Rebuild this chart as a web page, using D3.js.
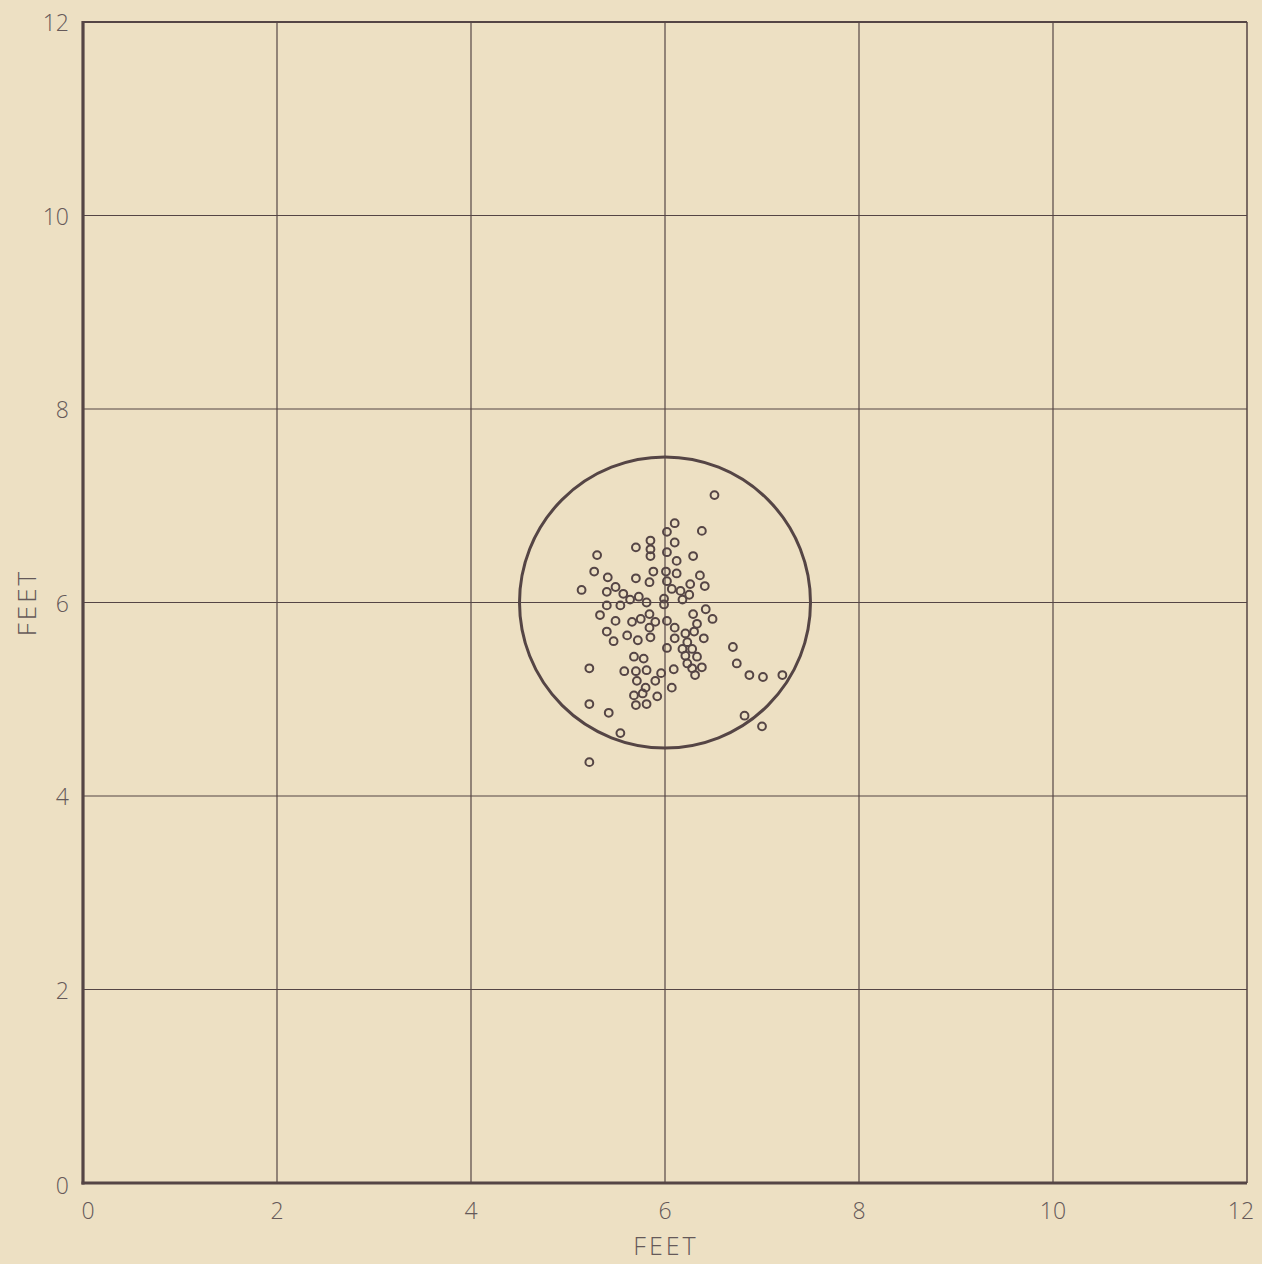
<!DOCTYPE html>
<html>
<head>
<meta charset="utf-8">
<script src="https://cdn.jsdelivr.net/npm/d3@7"></script>
<style>
  html, body { margin: 0; padding: 0; background: #ede0c3; }
  svg { display: block; }
</style>
</head>
<body>
<div id="vis"></div>
<script>
// ---- Data (feet) ----
const xTicks = [0, 2, 4, 6, 8, 10, 12];
const yTicks = [0, 2, 4, 6, 8, 10, 12];
const tickLabels = ["0", "2", "4", "6", "8", "10", "12"];

// impact circle: center + radius in feet
const circleCenter = [6, 6];
const circleRadius = 1.5;

// hit points
const hitX = [
  6.51, 6.10, 6.38, 6.02, 5.70, 5.85, 5.85, 5.85, 5.30, 6.10,
  6.02, 6.29, 6.12, 5.27, 5.41, 5.70, 5.88, 6.01, 6.12, 6.36,
  5.84, 6.02, 5.14, 5.40, 5.49, 5.57, 5.64, 5.73, 5.81, 5.40,
  5.54, 5.99, 6.07, 6.16, 6.26, 6.41, 6.25, 6.18, 6.42, 6.29,
  6.49, 5.33, 5.49, 5.66, 5.75, 5.84, 5.90, 6.02, 6.10, 6.10,
  6.21, 6.30, 6.33, 6.40, 6.23, 5.40, 5.61, 5.47, 5.72, 5.84,
  5.85, 6.02, 6.18, 6.28, 6.33, 6.21, 6.23, 6.28, 6.31, 6.38,
  6.09, 5.96, 6.07, 5.68, 5.78, 5.22, 5.58, 5.70, 5.81, 5.71,
  5.90, 5.80, 5.68, 5.92, 5.70, 5.81, 5.22, 5.42, 5.54, 5.22,
  6.70, 6.74, 6.87, 7.01, 7.21, 6.82, 7.00, 5.77, 5.99
];
const hitY = [
  7.11, 6.82, 6.74, 6.73, 6.57, 6.64, 6.55, 6.48, 6.49, 6.62,
  6.52, 6.48, 6.43, 6.32, 6.26, 6.25, 6.32, 6.32, 6.30, 6.28,
  6.21, 6.22, 6.13, 6.11, 6.16, 6.09, 6.03, 6.06, 6.00, 5.97,
  5.97, 6.04, 6.14, 6.12, 6.19, 6.17, 6.08, 6.03, 5.93, 5.88,
  5.83, 5.87, 5.81, 5.80, 5.83, 5.88, 5.80, 5.81, 5.74, 5.63,
  5.68, 5.70, 5.78, 5.63, 5.59, 5.70, 5.66, 5.60, 5.61, 5.74,
  5.64, 5.53, 5.52, 5.52, 5.44, 5.45, 5.37, 5.32, 5.25, 5.33,
  5.31, 5.27, 5.12, 5.44, 5.42, 5.32, 5.29, 5.29, 5.30, 5.19,
  5.19, 5.12, 5.04, 5.03, 4.94, 4.95, 4.95, 4.86, 4.65, 4.35,
  5.54, 5.37, 5.25, 5.23, 5.25, 4.83, 4.72, 5.06, 5.98
];

const points = hitX.map((x, i) => ({ x, y: hitY[i] }));

// ---- Layout ----
const outerWidth = 1262;
const outerHeight = 1264;
const margin = { top: 22, right: 15, bottom: 81, left: 83 };
const width = outerWidth - margin.left - margin.right;
const height = outerHeight - margin.top - margin.bottom;

const ink = "#554545";
const labelInk = "#655959";
const font = "'Open Sans', 'DejaVu Sans', sans-serif";

const svg = d3.select("#vis")
  .append("svg")
  .attr("width", outerWidth)
  .attr("height", outerHeight);

svg.append("rect")
  .attr("width", outerWidth)
  .attr("height", outerHeight)
  .attr("fill", "#ede0c3");

const g = svg.append("g")
  .attr("transform", `translate(${margin.left},${margin.top})`);

const x = d3.scaleLinear().domain([0, 12]).range([0, width]);
const y = d3.scaleLinear().domain([0, 12]).range([height, 0]);

// ---- Grid ----
const grid = g.append("g").attr("class", "grid");

grid.selectAll("line.v")
  .data(xTicks.slice(1, -1))
  .join("line")
  .attr("class", "v")
  .attr("x1", d => x(d)).attr("x2", d => x(d))
  .attr("y1", 0).attr("y2", height)
  .attr("stroke", ink)
  .attr("stroke-width", 1.2);

grid.selectAll("line.h")
  .data(yTicks.slice(1, -1))
  .join("line")
  .attr("class", "h")
  .attr("x1", 0).attr("x2", width)
  .attr("y1", d => y(d)).attr("y2", d => y(d))
  .attr("stroke", ink)
  .attr("stroke-width", 1.2);

// frame: thin top/right, heavy left/bottom
g.append("line")
  .attr("x1", 0).attr("x2", width).attr("y1", y(12)).attr("y2", y(12))
  .attr("stroke", ink).attr("stroke-width", 2);
g.append("line")
  .attr("x1", x(12)).attr("x2", x(12)).attr("y1", 0).attr("y2", height)
  .attr("stroke", ink).attr("stroke-width", 1.5);
g.append("line")
  .attr("x1", x(0)).attr("x2", x(0)).attr("y1", -1).attr("y2", height + 1.5)
  .attr("stroke", ink).attr("stroke-width", 3.2);
g.append("line")
  .attr("x1", -1.5).attr("x2", width).attr("y1", y(0)).attr("y2", y(0))
  .attr("stroke", ink).attr("stroke-width", 3.2);

// ---- Tick labels ----
g.selectAll("text.xt")
  .data(xTicks)
  .join("text")
  .attr("class", "xt")
  .attr("x", d => x(d) + (d === 0 ? 5 : d === 12 ? -6 : 0))
  .attr("y", height + 27)
  .attr("dominant-baseline", "central")
  .attr("text-anchor", "middle")
  .attr("font-family", font)
  .attr("font-weight", 300)
  .attr("font-size", 23)
  .attr("fill", labelInk)
  .text((d, i) => tickLabels[i]);

g.selectAll("text.yt")
  .data(yTicks)
  .join("text")
  .attr("class", "yt")
  .attr("x", -14)
  .attr("y", d => y(d) + (d === 0 ? 2 : 0))
  .attr("dominant-baseline", "central")
  .attr("text-anchor", "end")
  .attr("font-family", font)
  .attr("font-weight", 300)
  .attr("font-size", 23)
  .attr("fill", labelInk)
  .text((d, i) => tickLabels[i]);

// axis titles
svg.append("text")
  .attr("x", margin.left + x(6) + 1)
  .attr("y", 1245)
  .attr("dominant-baseline", "central")
  .attr("text-anchor", "middle")
  .attr("font-family", font)
  .attr("font-weight", 300)
  .attr("font-size", 25)
  .attr("letter-spacing", 3)
  .attr("fill", labelInk)
  .text("FEET");

svg.append("text")
  .attr("transform", `translate(26,${margin.top + y(6)}) rotate(-90)`)
  .attr("dominant-baseline", "central")
  .attr("text-anchor", "middle")
  .attr("font-family", font)
  .attr("font-weight", 300)
  .attr("font-size", 26)
  .attr("letter-spacing", 3)
  .attr("fill", labelInk)
  .text("FEET");

// ---- Circle ----
g.append("circle")
  .attr("cx", x(circleCenter[0]))
  .attr("cy", y(circleCenter[1]))
  .attr("r", x(circleRadius) - x(0))
  .attr("fill", "none")
  .attr("stroke", ink)
  .attr("stroke-width", 3);

// ---- Hits ----
g.append("g")
  .selectAll("circle")
  .data(points)
  .join("circle")
  .attr("cx", d => x(d.x))
  .attr("cy", d => y(d.y))
  .attr("r", 3.9)
  .attr("fill", "none")
  .attr("stroke", ink)
  .attr("stroke-width", 2);
</script>
</body>
</html>
